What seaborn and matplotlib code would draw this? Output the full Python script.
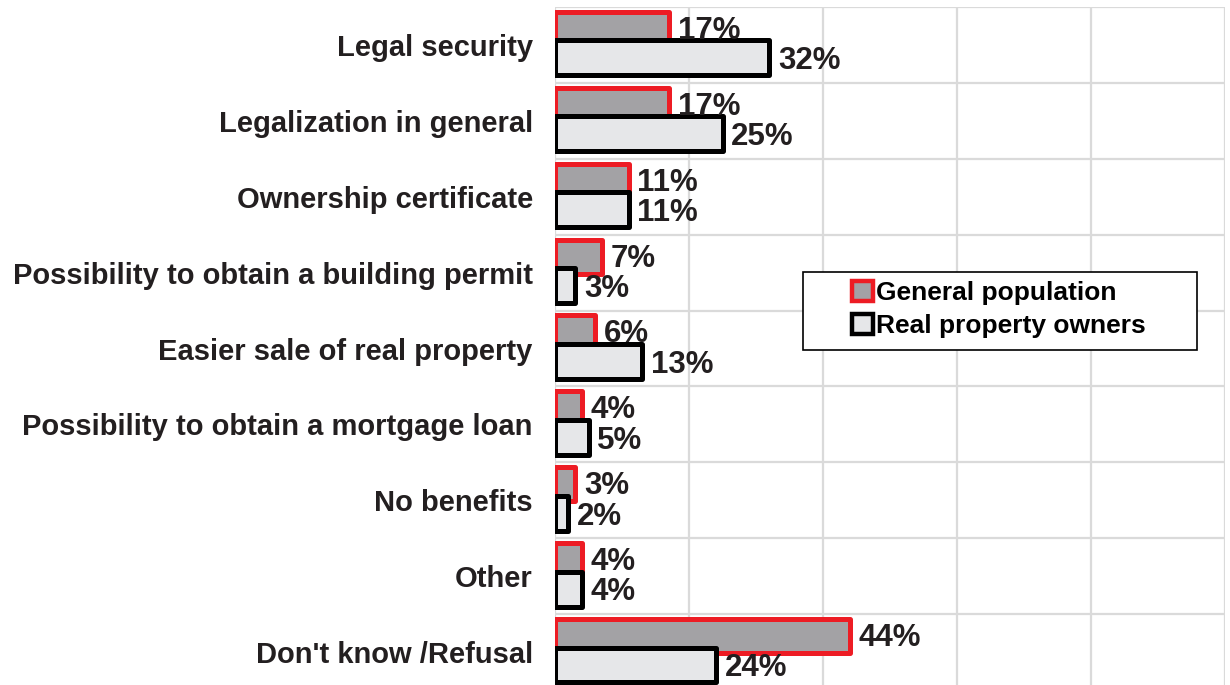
import matplotlib
matplotlib.use("Agg")
import matplotlib.pyplot as plt
from matplotlib.patches import Patch, Rectangle
import seaborn as sns
import pandas as pd

categories = ["Legal security", "Legalization in general", "Ownership certificate",
              "Possibility to obtain a building permit", "Easier sale of real property",
              "Possibility to obtain a mortgage loan", "No benefits", "Other",
              "Don't know /Refusal"]
general_population = [17, 17, 11, 7, 6, 4, 3, 4, 44]
property_owners = [32, 25, 11, 3, 13, 5, 2, 4, 24]
series_names = ["General population", "Real property owners"]

RED = "#ED1C24"
GREY = "#A3A1A6"
LIGHT = "#E6E7E9"
BLACK = "#000000"
TXT = "#231F20"

sns.set_theme(style="white")
plt.rcParams['font.family'] = ['Liberation Sans', 'DejaVu Sans']

df = pd.DataFrame({
    "cat": categories * 2,
    "val": general_population + property_owners,
    "series": [series_names[0]] * len(categories) + [series_names[1]] * len(categories),
})

fig = plt.figure(figsize=(12.3, 6.85), dpi=100)
ax = fig.add_axes([555 / 1230, -5 / 685, 670 / 1230, 683 / 685])

sns.barplot(data=df, y="cat", x="val", hue="series", orient="h", dodge=True,
            palette=[GREY, LIGHT], ax=ax, legend=False, order=categories,
            hue_order=series_names)

specs = [(-0.21, 0.45, RED, 3), (0.17, 0.46, BLACK, 4)]
for cont, (off, h, ec, z) in zip(ax.containers, specs):
    for i, bar in enumerate(cont.patches):
        bar.set_y(i + off - h / 2)
        bar.set_height(h)
        bar.set_edgecolor(ec)
        bar.set_linewidth(3.6)
        bar.set_joinstyle("round")
        bar.set_zorder(z)

for i, (g, o) in enumerate(zip(general_population, property_owners)):
    ax.text(g + 1.3, i - 0.185, f"{g}%", va="center", ha="left",
            fontsize=22.5, fontweight="bold", color=TXT, zorder=6)
    ax.text(o + 1.3, i + 0.215, f"{o}%", va="center", ha="left",
            fontsize=22.5, fontweight="bold", color=TXT, zorder=6)

ax.set_xlim(0, 100)
ax.set_ylim(len(categories) - 0.5, -0.5)
ax.set_xticks([0, 20, 40, 60, 80, 100])
ax.set_xticklabels([])
ax.set_yticks(range(len(categories)))
ax.set_yticklabels(categories, fontsize=21, fontweight="bold", color=TXT)
ax.set_yticks([i - 0.5 for i in range(len(categories) + 1)], minor=True)
ax.tick_params(axis="y", which="both", length=0, pad=16)
ax.tick_params(axis="x", length=0)
ax.grid(True, axis="x", which="major", color="#DADADA", linewidth=1.6, zorder=0)
ax.grid(True, axis="y", which="minor", color="#DADADA", linewidth=1.6, zorder=0)
ax.grid(False, axis="y", which="major")
ax.set_axisbelow(True)
ax.set_xlabel("")
ax.set_ylabel("")
for s in ax.spines.values():
    s.set_visible(False)

# legend
fig.patches.append(Rectangle((803 / 1230, 1 - 350 / 685), 394 / 1230, 78 / 685,
                             transform=fig.transFigure, facecolor="white",
                             edgecolor=BLACK, linewidth=1.2, zorder=10))
handles = [Patch(facecolor=GREY, edgecolor=RED, linewidth=3.2),
           Patch(facecolor=LIGHT, edgecolor=BLACK, linewidth=3.2)]
leg = fig.legend(handles, series_names, loc="upper left",
                 bbox_to_anchor=(852 / 1230, 1 - 281 / 685), frameon=False,
                 prop={"size": 19, "weight": "bold"}, handlelength=0.8,
                 handleheight=0.8, handletextpad=0.12, labelspacing=0.33,
                 borderpad=0, borderaxespad=0)
leg.set_zorder(11)
for t in leg.get_texts():
    t.set_color(BLACK)

fig.savefig("out.png", dpi=100)
